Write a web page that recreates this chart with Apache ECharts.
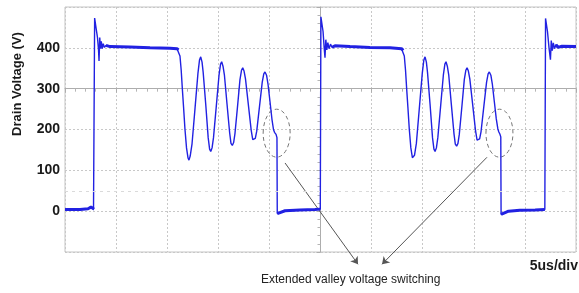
<!DOCTYPE html>
<html>
<head>
<meta charset="utf-8">
<script src="https://cdn.jsdelivr.net/npm/echarts@6/dist/echarts.min.js"></script>
<style>
html, body { margin: 0; padding: 0; background: #fff; }
#main { width: 579px; height: 293px; }
</style>
</head>
<body>
<div id="main"></div>
<script>
// time in us (5us/div), drain voltage in V
var yTicks = [0, 100, 200, 300, 400];

var lowA = [[0, 4], [1.47, 4], [2.25, 6], [2.54, 10], [2.79, 6], [2.86, 5]];
var turnOnA = [[2.90, 473], [3.03, 450], [3.18, 425], [3.28, 395], [3.33, 368], [3.40, 425], [3.47, 398], [3.55, 416], [3.64, 398], [3.74, 410], [3.86, 401], [4.01, 406]];
var plateauA = [[4.01, 406], [4.40, 403], [6.36, 402], [8.32, 400], [10.27, 399], [10.96, 398], [11.11, 395]];
var ringA = [[11.25, 380], [11.37, 345], [11.48, 300], [11.60, 255], [11.74, 200], [11.89, 155], [12.04, 130], [12.13, 125], [12.25, 135], [12.43, 165], [12.72, 251], [13.01, 338], [13.16, 370], [13.28, 378], [13.41, 365], [13.52, 340], [13.77, 262], [14.01, 180], [14.15, 152], [14.26, 146], [14.39, 155], [14.53, 180], [14.80, 256], [15.07, 333], [15.22, 360], [15.33, 366], [15.46, 355], [15.60, 333], [15.85, 263], [16.11, 192], [16.24, 166], [16.37, 161], [16.50, 168], [16.63, 190], [16.88, 256], [17.12, 322], [17.27, 345], [17.39, 351], [17.52, 343], [17.66, 324], [17.94, 261], [18.22, 198], [18.37, 175], [18.49, 171], [18.62, 178], [18.76, 196], [19.03, 256], [19.30, 316], [19.45, 336], [19.57, 341], [19.72, 333], [19.86, 312], [20.06, 268], [20.25, 225], [20.40, 200], [20.50, 193], [20.65, 188], [20.74, 180]];
var lowB = [[20.77, -6], [20.94, -3], [21.53, 1], [22.99, 3], [24.46, 4], [24.98, 5]];
var turnOnB = [[25.04, 476], [25.25, 440], [25.36, 400], [25.44, 376], [25.52, 420], [25.62, 395], [25.72, 413], [25.83, 398], [25.98, 409], [26.13, 401]];
var plateauB = [[26.13, 401], [26.42, 405], [27.89, 403], [29.84, 401], [31.80, 400], [32.93, 398], [33.10, 394]];
var ringB = [[33.20, 380], [33.32, 345], [33.43, 300], [33.55, 255], [33.69, 200], [33.84, 155], [33.99, 131], [34.08, 127], [34.20, 137], [34.38, 166], [34.67, 252], [34.96, 338], [35.11, 370], [35.23, 378], [35.36, 365], [35.47, 340], [35.72, 262], [35.96, 180], [36.10, 152], [36.21, 146], [36.34, 155], [36.48, 180], [36.75, 256], [37.02, 333], [37.17, 360], [37.28, 366], [37.41, 355], [37.55, 333], [37.80, 262], [38.06, 190], [38.19, 164], [38.32, 159], [38.45, 166], [38.58, 188], [38.83, 255], [39.07, 322], [39.22, 345], [39.34, 351], [39.47, 343], [39.61, 324], [39.89, 261], [40.17, 197], [40.32, 174], [40.44, 170], [40.57, 177], [40.71, 195], [40.98, 256], [41.25, 316], [41.40, 336], [41.52, 341], [41.67, 333], [41.81, 312], [42.01, 268], [42.20, 226], [42.35, 202], [42.45, 194], [42.55, 189], [42.64, 182]];
var lowC = [[42.67, -8], [42.85, -4], [43.40, 0], [44.50, 2], [46.00, 3], [46.95, 4]];
var turnOnC = [[47.02, 472], [47.21, 440], [47.36, 400], [47.50, 371], [47.58, 418], [47.68, 393], [47.78, 412], [47.90, 398], [48.04, 408]];
var plateauC = [[48.04, 408], [48.24, 401], [48.63, 404], [50, 403]];

// callouts: dashed ellipses round the switching points, arrows to the note
var calloutCenters = [[20.71, 191], [42.51, 191]];
var arrowLines = [[[21.53, 118], [28.67, -130]], [[41.29, 132], [31.02, -130]]];
var triggerLevel = 50;

var wave = [].concat(lowA, turnOnA, plateauA, ringA, lowB, turnOnB, plateauB, ringB, lowC, turnOnC, plateauC);
var flats = [lowA, plateauA, lowB, plateauB, lowC, plateauC];

var blue = '#2121e2';
var font = 'Liberation Sans, Arial, sans-serif';

var series = [{
    name: 'Vds',
    type: 'line',
    data: wave,
    showSymbol: false,
    symbol: 'none',
    lineStyle: { color: blue, width: 1.4 },
    animation: false,
    markLine: {
        silent: true,
        symbol: 'none',
        label: { show: false },
        lineStyle: { color: '#dadada', type: [3, 4], width: 1 },
        data: [{ yAxis: triggerLevel }]
    }
}];
flats.forEach(function (seg) {
    series.push({
        type: 'line',
        data: seg,
        symbol: 'none',
        lineStyle: { color: blue, width: 3 },
        animation: false
    });
});
series.push({
    type: 'lines',
    coordinateSystem: 'cartesian2d',
    clip: false,
    symbol: ['none', 'arrow'],
    symbolSize: 7,
    lineStyle: { color: '#555', width: 1, opacity: 1 },
    data: arrowLines.map(function (c) { return { coords: c }; }),
    animation: false
});

var myChart = echarts.init(document.getElementById('main'));
var option = {
    animation: false,
    grid: { left: 65, top: 7, right: 3, bottom: 41, show: true, borderColor: '#c4c4c4', borderWidth: 1 },
    xAxis: [{
        type: 'value', min: 0, max: 50, interval: 5,
        axisLine: { show: false, onZero: false },
        axisTick: { show: false },
        axisLabel: { show: false },
        splitLine: { show: true, lineStyle: { color: '#c8c8c8', type: [2, 2] } }
    }, {
        type: 'value', min: -25, max: 25, interval: 5,
        axisLine: { show: true, onZero: true, onZeroAxisIndex: 1, lineStyle: { color: '#adadad' } },
        axisTick: { show: true, inside: true, length: 4, lineStyle: { color: '#adadad' } },
        minorTick: { show: true, splitNumber: 5, length: 3, lineStyle: { color: '#b5b5b5' } },
        axisLabel: { show: false },
        splitLine: { show: false }
    }],
    yAxis: [{
        type: 'value', min: -100, max: 500, interval: 100,
        axisLine: { show: false, onZero: false },
        axisTick: { show: false },
        axisLabel: {
            margin: 5,
            color: '#1a1a1a',
            fontWeight: 'bold',
            fontSize: 14,
            fontFamily: font,
            formatter: function (v) { return yTicks.indexOf(v) >= 0 ? String(v) : ''; }
        },
        splitLine: { show: true, lineStyle: { color: '#c8c8c8', type: [2, 2] } }
    }, {
        type: 'value', min: -400, max: 200, interval: 100,
        axisLine: { show: true, onZero: true, onZeroAxisIndex: 1, lineStyle: { color: '#adadad' } },
        axisTick: { show: true, inside: true, length: 4, lineStyle: { color: '#adadad' } },
        minorTick: { show: true, splitNumber: 5, length: 3, lineStyle: { color: '#b5b5b5' } },
        axisLabel: { show: false },
        splitLine: { show: false }
    }],
    series: series
};
myChart.setOption(option);

var graphics = [{
    type: 'text', id: 'ytitle', x: 17, y: 84, rotation: Math.PI / 2,
    style: { text: 'Drain Voltage (V)', font: 'bold 13px ' + font, fill: '#1a1a1a', align: 'center', verticalAlign: 'middle' }
}, {
    type: 'text', id: 'note', x: 261, y: 280,
    style: { text: 'Extended valley voltage switching', font: '12px ' + font, fill: '#222', align: 'left', verticalAlign: 'middle' }
}, {
    type: 'text', id: 'scale', x: 578, y: 266,
    style: { text: '5us/div', font: 'bold 14px ' + font, fill: '#1a1a1a', align: 'right', verticalAlign: 'middle' }
}];
calloutCenters.forEach(function (c, i) {
    var p = myChart.convertToPixel({ xAxisIndex: 0, yAxisIndex: 0 }, c);
    graphics.push({
        type: 'ellipse', id: 'callout' + i,
        shape: { cx: p[0], cy: p[1], rx: 13.5, ry: 24 },
        style: { fill: 'none', stroke: '#777', lineWidth: 1, lineDash: [4, 3] }
    });
});
myChart.setOption({ graphic: graphics });
</script>
</body>
</html>
